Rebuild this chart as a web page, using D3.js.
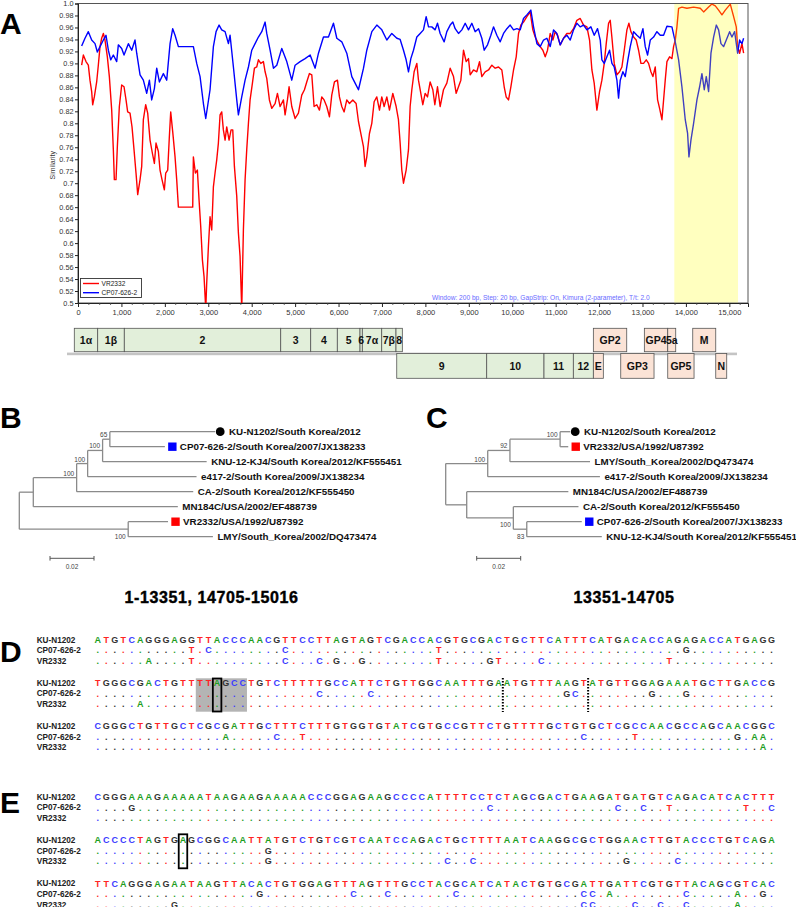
<!DOCTYPE html>
<html><head><meta charset="utf-8">
<script src="https://cdn.jsdelivr.net/npm/d3@7"></script>
<style>body{margin:0;background:#fff}svg{display:block}</style>
</head><body>
<svg id="c" width="796" height="907"></svg>
<script>
// ---------------- DATA ----------------
// Panel A similarity plot (position bp, similarity)
const vr2332Series = [[84,0.897],[123,0.914],[184,0.903],[238,0.897],[276,0.872],[315,0.853],[338,0.831],[376,0.844],[430,0.869],[468,0.897],[507,0.928],[545,0.942],[584,0.95],[622,0.939],[676,0.911],[722,0.878],[776,0.822],[814,0.756],[837,0.706],[876,0.706],[906,0.761],[952,0.828],[1006,0.864],[1060,0.861],[1106,0.839],[1144,0.819],[1198,0.817],[1244,0.794],[1290,0.756],[1336,0.717],[1375,0.681],[1429,0.706],[1467,0.728],[1505,0.806],[1559,0.831],[1605,0.817],[1659,0.772],[1713,0.75],[1759,0.733],[1797,0.767],[1851,0.753],[1889,0.722],[1935,0.706],[1989,0.689],[2020,0.717],[2066,0.722],[2104,0.778],[2135,0.819],[2181,0.786],[2235,0.744],[2273,0.706],[2312,0.66],[2642,0.66],[2657,0.744],[2703,0.717],[2749,0.722],[2788,0.672],[2826,0.628],[2865,0.572],[2903,0.544],[2942,0.49],[2964,0.533],[3003,0.594],[3041,0.644],[3080,0.622],[3118,0.694],[3156,0.717],[3195,0.739],[3233,0.767],[3272,0.814],[3310,0.819],[3348,0.789],[3387,0.772],[3425,0.794],[3479,0.772],[3525,0.789],[3564,0.789],[3602,0.728],[3656,0.678],[3694,0.617],[3732,0.578],[3771,0.49],[3809,0.622],[3848,0.706],[3886,0.756],[3925,0.8],[3963,0.839],[4017,0.867],[4063,0.892],[4116,0.894],[4155,0.906],[4209,0.9],[4270,0.903],[4309,0.886],[4347,0.875],[4408,0.839],[4462,0.825],[4539,0.833],[4593,0.85],[4654,0.828],[4731,0.839],[4769,0.814],[4823,0.839],[4861,0.861],[4923,0.828],[5000,0.808],[5076,0.817],[5153,0.847],[5215,0.856],[5268,0.869],[5330,0.883],[5384,0.881],[5437,0.828],[5499,0.831],[5560,0.822],[5614,0.844],[5668,0.839],[5729,0.828],[5791,0.811],[5844,0.847],[5906,0.869],[5975,0.872],[6021,0.844],[6075,0.828],[6129,0.819],[6190,0.839],[6252,0.833],[6328,0.839],[6405,0.833],[6459,0.803],[6513,0.783],[6574,0.761],[6612,0.728],[6651,0.744],[6712,0.783],[6766,0.8],[6820,0.836],[6881,0.844],[6943,0.822],[6996,0.844],[7050,0.828],[7112,0.844],[7173,0.822],[7250,0.85],[7327,0.828],[7380,0.806],[7419,0.767],[7457,0.722],[7496,0.7],[7557,0.722],[7611,0.756],[7649,0.828],[7688,0.856],[7741,0.886],[7803,0.9],[7841,0.872],[7895,0.85],[7941,0.831],[7995,0.85],[8049,0.844],[8110,0.869],[8172,0.856],[8218,0.831],[8279,0.861],[8340,0.828],[8417,0.856],[8494,0.867],[8571,0.892],[8648,0.878],[8709,0.85],[8763,0.861],[8817,0.872],[8878,0.922],[8940,0.903],[8993,0.908],[9032,0.881],[9108,0.889],[9185,0.886],[9247,0.903],[9300,0.878],[9377,0.886],[9454,0.889],[9531,0.897],[9608,0.892],[9684,0.894],[9761,0.889],[9815,0.861],[9861,0.844],[9915,0.839],[9969,0.861],[10030,0.889],[10092,0.911],[10145,0.95],[10199,0.964],[10260,0.969],[10337,0.978],[10414,0.986],[10475,0.956],[10529,0.944],[10583,0.936],[10644,0.928],[10706,0.922],[10760,0.911],[10813,0.922],[10875,0.95],[10936,0.939],[10990,0.953],[11044,0.947],[11105,0.931],[11182,0.942],[11259,0.95],[11336,0.95],[11412,0.958],[11489,0.972],[11566,0.975],[11643,0.964],[11720,0.961],[11781,0.939],[11835,0.889],[11888,0.867],[11950,0.822],[12011,0.853],[12065,0.872],[12119,0.9],[12165,0.933],[12219,0.967],[12257,0.972],[12295,0.944],[12349,0.9],[12411,0.881],[12472,0.886],[12526,0.894],[12580,0.922],[12641,0.956],[12687,0.967],[12733,0.953],[12795,0.944],[12856,0.939],[12910,0.922],[12964,0.9],[13025,0.9],[13087,0.906],[13140,0.9],[13194,0.886],[13240,0.878],[13294,0.894],[13348,0.839],[13394,0.825],[13448,0.806],[13486,0.839],[13524,0.872],[13563,0.903],[13624,0.911],[13678,0.908],[13716,0.928],[13755,0.939],[13793,0.961],[13832,0.992],[13908,0.994],[14024,0.992],[14177,0.994],[14331,0.992],[14408,0.986],[14523,0.994],[14600,0.999],[14677,0.996],[14753,0.989],[14830,0.981],[14907,0.989],[15022,0.999],[15099,0.978],[15160,0.961],[15191,0.928],[15237,0.917],[15291,0.933],[15329,0.917]];
const cp07Series = [[84,0.929],[161,0.942],[238,0.953],[315,0.939],[392,0.933],[445,0.919],[507,0.928],[584,0.939],[645,0.947],[699,0.922],[753,0.906],[814,0.914],[891,0.903],[929,0.931],[1006,0.925],[1060,0.914],[1160,0.933],[1237,0.922],[1313,0.939],[1352,0.917],[1429,0.881],[1505,0.872],[1582,0.85],[1644,0.872],[1697,0.839],[1759,0.858],[1813,0.892],[1874,0.869],[1966,0.883],[2043,0.872],[2120,0.933],[2181,0.958],[2235,0.947],[2312,0.928],[2504,0.928],[2657,0.928],[2734,0.9],[2811,0.878],[2888,0.833],[2942,0.808],[3041,0.856],[3118,0.928],[3180,0.953],[3249,0.964],[3310,0.956],[3387,0.953],[3464,0.933],[3502,0.947],[3579,0.894],[3656,0.839],[3694,0.814],[3771,0.844],[3848,0.872],[3925,0.894],[4002,0.922],[4078,0.933],[4155,0.944],[4232,0.953],[4309,0.969],[4347,0.95],[4424,0.922],[4501,0.892],[4578,0.897],[4693,0.925],[4808,0.903],[4923,0.872],[5000,0.897],[5115,0.903],[5230,0.908],[5346,0.914],[5461,0.892],[5538,0.917],[5653,0.944],[5768,0.944],[5883,0.967],[5960,0.942],[6075,0.936],[6190,0.917],[6306,0.878],[6382,0.867],[6459,0.856],[6575,0.892],[6651,0.922],[6767,0.953],[6882,0.964],[6997,0.956],[7112,0.939],[7227,0.95],[7343,0.942],[7419,0.94],[7496,0.922],[7557,0.906],[7611,0.886],[7665,0.908],[7726,0.922],[7803,0.944],[7880,0.95],[7956,0.956],[8018,0.978],[8072,0.961],[8148,0.961],[8225,0.956],[8279,0.967],[8340,0.95],[8433,0.936],[8494,0.953],[8571,0.964],[8632,0.969],[8686,0.958],[8763,0.95],[8840,0.956],[8917,0.967],[8993,0.956],[9070,0.967],[9147,0.953],[9224,0.958],[9300,0.942],[9354,0.922],[9431,0.931],[9508,0.947],[9569,0.961],[9646,0.947],[9723,0.936],[9800,0.95],[9877,0.958],[9953,0.964],[10030,0.956],[10107,0.958],[10184,0.956],[10260,0.975],[10337,0.981],[10429,0.989],[10491,0.961],[10568,0.933],[10644,0.928],[10721,0.939],[10798,0.942],[10875,0.928],[10952,0.956],[11028,0.95],[11105,0.931],[11182,0.942],[11259,0.947],[11336,0.939],[11412,0.956],[11489,0.967],[11566,0.961],[11643,0.964],[11720,0.956],[11812,0.961],[11888,0.947],[11965,0.958],[12027,0.939],[12065,0.906],[12119,0.9],[12180,0.911],[12242,0.922],[12296,0.9],[12349,0.894],[12411,0.872],[12449,0.842],[12488,0.872],[12549,0.886],[12603,0.878],[12664,0.906],[12718,0.928],[12795,0.953],[12872,0.947],[12948,0.942],[13010,0.958],[13064,0.928],[13117,0.914],[13179,0.939],[13256,0.944],[13332,0.953],[13409,0.947],[13486,0.947],[13563,0.962],[13678,0.961],[13755,0.936],[13832,0.906],[13908,0.861],[13985,0.806],[14039,0.783],[14070,0.744],[14116,0.772],[14177,0.8],[14254,0.839],[14316,0.861],[14369,0.883],[14423,0.856],[14469,0.878],[14523,0.853],[14577,0.917],[14638,0.944],[14700,0.964],[14753,0.956],[14807,0.933],[14868,0.928],[14930,0.939],[15007,0.953],[15060,0.944],[15122,0.953],[15191,0.917],[15237,0.939],[15291,0.933],[15329,0.942]];
const seriesNames = ["VR2332","CP07-626-2"];
const seriesColors = ["#ff0000","#0000ff"];
const highlightRange = [13733, 15200];
const yTickValues = [0.5,0.52,0.54,0.56,0.58,0.6,0.62,0.64,0.66,0.68,0.7,0.72,0.74,0.76,0.78,0.8,0.82,0.84,0.86,0.88,0.9,0.92,0.94,0.96,0.98,1.0];
const yTickLabels = ["0.5","0.52","0.54","0.56","0.58","0.6","0.62","0.64","0.66","0.68","0.7","0.72","0.74","0.76","0.78","0.8","0.82","0.84","0.86","0.88","0.9","0.92","0.94","0.96","0.98","1.0"];
const xTickValues = [0,1000,2000,3000,4000,5000,6000,7000,8000,9000,10000,11000,12000,13000,14000,15000];
const xTickLabels = ["0","1,000","2,000","3,000","4,000","5,000","6,000","7,000","8,000","9,000","10,000","11,000","12,000","13,000","14,000","15,000"];
const annotation = "Window: 200 bp, Step: 20 bp, GapStrip: On, Kimura (2-parameter), T/t: 2.0";

// Genome map
const geneNames = ["1α","1β","2","3","4","5","6","7α","7β","8","9","10","11","12","E","GP2","GP3","GP4","5a","GP5","M","N"];
const geneStart = [0,539,1152,4756,5447,6060,6583,6636,7083,7412,7429,9502,10822,11498,11959,11959,12590,13134,13673,13673,14249,14779];
const geneEnd   = [539,1152,4756,5447,6060,6583,6636,7083,7412,7558,9502,10822,11498,11959,12189,12728,13357,13673,13857,14279,14779,15032];
const geneRow   = [0,0,0,0,0,0,0,0,0,0,1,1,1,1,1,0,1,0,0,1,0,1];
const geneKind  = ["n","n","n","n","n","n","n","n","n","n","n","n","n","n","s","s","s","s","s","s","s","s"];

// Trees
const tipLabels = {KU:"KU-N1202/South Korea/2012",CP:"CP07-626-2/South Korea/2007/JX138233",KNU:"KNU-12-KJ4/South Korea/2012/KF555451",E4:"e417-2/South Korea/2009/JX138234",CA:"CA-2/South Korea/2012/KF555450",MN:"MN184C/USA/2002/EF488739",VR:"VR2332/USA/1992/U87392",LMY:"LMY/South_Korea/2002/DQ473474"};
const treeB_id     = ["r","a","b","c","d","e","KU","CP","KNU","E4","CA","MN","f","VR","LMY"];
const treeB_parent = ["","r","a","b","c","d","e","e","d","c","b","a","r","f","f"];
const treeB_len    = [0,0.00636,0.0197,0.0050,0.0068,0.0033,0.0478,0.0250,0.0473,0.0495,0.0530,0.0657,0.0495,0.0181,0.0385];
const treeB_support= ["","","100","100","100","65","","","","","","","100","",""];
const treeB_below  = ["f"];
const treeC_id     = ["r","a","b","c","KU","VR","LMY","E4","g","MN","h","CA","i","CP","KNU"];
const treeC_parent = ["","r","a","b","c","c","b","a","r","g","g","h","h","i","i"];
const treeC_len    = [0,0.0191,0.0101,0.0228,0.0045,0.0037,0.0364,0.0510,0.00955,0.0462,0.0212,0.0296,0.0061,0.0250,0.0341];
const treeC_support= ["","100","92","100","","","","","","","100","","83","",""];
const treeC_below  = ["h","i"];
const treeTitles = ["1-13351, 14705-15016","13351-14705"];

// Alignments
const seqNames = ["KU-N1202","CP07-626-2","VR2332"];
const dRef = ["ATGTCAGGGAGGTTACCCAACGTTCCTTAGTAGTCGACCACGTGCGACTGCTTCATTTCATGACACCAGAGACCATGAGG",
              "TGGGCGACTGTTTTAGCCTGTCTTTTTGCCATTCTGTTGGCAATTTGAATGTTTAAGTATGTTGGAGAAATGCTTGACCG",
              "CGGGCTGTTGCTCGCGATTGCTTTCTTTGTGGTGTATCGTGCCGTTCTGTTTTGCTGTGCTCGCCAACGCCAGCAACGGC"];
const dCP = [[[11,"T"],[13,"C"],[22,"C"],[40,"T"],[69,"G"]],
             [[26,"C"],[32,"C"],[55,"G"],[56,"C"],[65,"G"],[69,"G"]],
             [[15,"A"],[21,"C"],[24,"T"],[57,"C"],[63,"T"],[75,"G"],[77,"A"],[78,"A"]]];
const dVR = [[[6,"A"],[11,"T"],[22,"C"],[26,"C"],[28,"G"],[31,"G"],[40,"T"],[46,"G"],[47,"T"],[52,"C"],[67,"T"]],
             [[5,"A"]],
             [[78,"A"]]];
const eRef = ["CGGGAAAGAAAAATAAGAAGAAAAACCCGGAGAAGCCCCATTTTCCTCTAGCGACTGAAGATGATGTCAGACATCACTTT",
              "ACCCCTAGTGAGCGGCAATTATGTCTGTCGTCAATCCAGACTGCTTTTAATCAAGGCGCTGGAACTTGTACCCTGTCAGA",
              "TTCAGGGAGAATAAGTTACACTGTGGAGTTTAGTTTGCCTACGCATCATACTGTGCGATTGATTCGTGTTACAGCGTCAC"];
const eCP = [[[4,"G"],[46,"C"],[61,"C"],[64,"C"],[67,"T"],[76,"T"],[79,"C"]],
             [[20,"G"]],
             [[19,"G"],[30,"C"],[34,"C"],[42,"C"],[57,"C"],[58,"C"],[60,"A"],[69,"C"],[75,"A"],[78,"G"]]];
const eVR = [[],
             [[20,"G"],[41,"C"],[44,"C"],[62,"G"],[68,"C"]],
             [[9,"G"],[57,"C"],[58,"C"],[63,"C"],[66,"C"],[69,"C"],[75,"A"]]];
const dShade = [12,17], dBox = 14, dCuts = [47.5,57.5], eBox = 10;
const baseColor = {A:"#1f9e1f",C:"#3b3bff",G:"#333333",T:"#ff2424"};

// ---------------- DRAW ----------------
const F = "'Liberation Sans', Arial, Helvetica, sans-serif";
const svg = d3.select("#c").style("font-family", F);

// Panel letters
[["A",0,34],["B",0,428],["C",426,428],["D",0,662],["E",0,813]].forEach(([t,xx,yy]) =>
  svg.append("text").attr("x",xx).attr("y",yy).attr("font-size",30).attr("font-weight","bold").text(t));

// ---- Panel A ----
const x = d3.scaleLinear().domain([0,15430]).range([78,748]);
const y = d3.scaleLinear().domain([0.5,1.0]).range([303,3.5]);
const gA = svg.append("g");
gA.append("rect").attr("x",x(0)).attr("y",y(1)).attr("width",x(15430)-x(0)).attr("height",y(0.5)-y(1))
  .attr("fill","#fff").attr("stroke","#555").attr("stroke-width",1);
svg.append("clipPath").attr("id","clipA").append("rect")
  .attr("x",x(0)).attr("y",y(1)).attr("width",x(15430)-x(0)).attr("height",y(0.5)-y(1));
const line = d3.line().x(d=>x(d[0])).y(d=>y(d[1]));
[vr2332Series, cp07Series].forEach((s,i)=>{
  gA.append("path").datum(s).attr("d",line).attr("fill","none").attr("stroke",seriesColors[i])
    .attr("stroke-width",1.4).attr("stroke-linejoin","round").attr("clip-path","url(#clipA)");
});
gA.append("rect").attr("x",x(highlightRange[0])).attr("y",y(1)+0.5).attr("width",x(highlightRange[1])-x(highlightRange[0]))
  .attr("height",y(0.5)-y(1)-1).attr("fill","#ffff00").attr("opacity",0.25);

const yAxis = gA.append("g").attr("transform",`translate(${x(0)},0)`)
  .call(d3.axisLeft(y).tickValues(yTickValues).tickFormat((d,i)=>yTickLabels[i]).tickSize(3).tickPadding(1.5));
yAxis.selectAll("text").attr("font-size",7.3).attr("fill","#333").attr("font-family",F);
yAxis.selectAll("line,path").attr("stroke","#222");
const xAxis = gA.append("g").attr("transform",`translate(0,${y(0.5)})`)
  .call(d3.axisBottom(x).tickValues(xTickValues).tickFormat((d,i)=>xTickLabels[i]).tickSize(4).tickPadding(3));
xAxis.selectAll("text").attr("font-size",7.5).attr("fill","#333").attr("font-family",F);
xAxis.selectAll("line,path").attr("stroke","#222");
gA.append("g").selectAll("line").data(d3.range(0,15430,250).filter(v=>v%1000!==0)).enter().append("line")
  .attr("x1",d=>x(d)).attr("x2",d=>x(d)).attr("y1",y(0.5)).attr("y2",y(0.5)+2).attr("stroke","#444").attr("stroke-width",0.8);
gA.append("text").attr("transform",`translate(55,${(y(0.5)+y(1))/2 + 12}) rotate(-90)`).attr("text-anchor","middle")
  .attr("font-size",7).attr("fill","#333").text("Similarity");
// legend
const lg = gA.append("g");
lg.append("rect").attr("x",80.5).attr("y",278.5).attr("width",61).attr("height",19).attr("fill","#fff").attr("stroke","#333").attr("stroke-width",0.9);
seriesNames.forEach((n,i)=>{
  const yy = 283.5 + i*9.2;
  lg.append("line").attr("x1",83).attr("x2",99).attr("y1",yy).attr("y2",yy).attr("stroke",seriesColors[i]).attr("stroke-width",1.4);
  lg.append("text").attr("x",101.5).attr("y",yy+2.4).attr("font-size",6.6).attr("fill","#222").text(n);
});
gA.append("text").attr("x",432).attr("y",300).attr("font-size",6.6).attr("fill","#6a6aff").text(annotation);

// genome map
const mapX = d3.scaleLinear().domain([0,15430]).range([74.3,744]);
const rowY = [[328.3,351.7],[353.5,378.3]];
const gM = svg.append("g");
gM.append("rect").attr("x",67).attr("y",352.6).attr("width",670).attr("height",2.6).attr("fill","#c4c4c4");
geneNames.forEach((n,i)=>{
  const r = rowY[geneRow[i]];
  gM.append("rect").attr("x",mapX(geneStart[i])).attr("y",r[0]).attr("width",mapX(geneEnd[i])-mapX(geneStart[i]))
    .attr("height",r[1]-r[0]).attr("fill",geneKind[i]==="n"?"#e2efda":"#fbe3d6").attr("stroke","#555").attr("stroke-width",0.8);
});
geneNames.forEach((n,i)=>{
  const r = rowY[geneRow[i]];
  gM.append("text").attr("x",(mapX(geneStart[i])+mapX(geneEnd[i]))/2).attr("y",(r[0]+r[1])/2+3.8)
    .attr("text-anchor","middle").attr("font-size",10.5).attr("font-weight","bold").attr("fill","#111").text(n);
});

// ---- Trees ----
function drawTree(ids, parents, lens, supports, below, rootX, scaleX, title, titleX) {
  const g = svg.append("g");
  const rows = ids.map((id,i)=>({id, parent: parents[i]||null, len: lens[i], sup: supports[i]}));
  const root = d3.stratify().id(d=>d.id).parentId(d=>d.parent)(rows);
  const bl = d3.scaleLinear().domain([0,0.02]).range([0,44]);
  root.eachBefore(n=>{ n.px = n.parent ? n.parent.px + bl(n.data.len) : rootX; });
  let k = 0;
  root.eachAfter(n=>{
    if (!n.children) { n.py = 431.7 + 15*(k++); }
    else { n.py = (n.children[0].py + n.children[n.children.length-1].py)/2; }
  });
  // fix leaf order (eachAfter visits in order of children)
  const stroke = "#8a8a8a";
  root.each(n=>{
    if (n.parent) g.append("line").attr("x1",n.parent.px).attr("x2",n.px).attr("y1",n.py).attr("y2",n.py).attr("stroke",stroke).attr("stroke-width",1.3);
    if (n.children) g.append("line").attr("x1",n.px).attr("x2",n.px).attr("y1",n.children[0].py).attr("y2",n.children[n.children.length-1].py).attr("stroke",stroke).attr("stroke-width",1.3);
    if (n.data.sup) {
      const isBelow = below.includes(n.id);
      g.append("text").attr("x",n.px-2.5).attr("y",isBelow? n.py+9.5 : n.py-2).attr("text-anchor","end")
        .attr("font-size",6.5).attr("fill","#444").text(n.data.sup);
    }
    if (!n.children) {
      let tx = n.px + 4.5;
      if (n.id==="KU") { g.append("circle").attr("cx",n.px+5.2).attr("cy",n.py).attr("r",4.4).attr("fill","#000"); tx = n.px+14; }
      if (n.id==="CP" || n.id==="VR") {
        g.append("rect").attr("x",n.px+3.3).attr("y",n.py-4.2).attr("width",8.4).attr("height",8.4).attr("fill", n.id==="CP"?"#0000ff":"#ff0000");
        tx = n.px + 15;
      }
      g.append("text").attr("x",tx).attr("y",n.py+3.5).attr("font-size",9.8).attr("font-weight","bold").attr("fill","#111").text(tipLabels[n.id]);
    }
  });
  // scale bar
  const sb0 = scaleX;
  g.append("line").attr("x1",sb0).attr("x2",sb0+bl(0.02)).attr("y1",558.3).attr("y2",558.3).attr("stroke","#555").attr("stroke-width",1);
  [sb0, sb0+bl(0.02)].forEach(v=>g.append("line").attr("x1",v).attr("x2",v).attr("y1",556).attr("y2",560.6).attr("stroke","#555").attr("stroke-width",1));
  g.append("text").attr("x",sb0+bl(0.01)).attr("y",569).attr("text-anchor","middle").attr("font-size",6.5).attr("fill","#444").text("0.02");
  g.append("text").attr("x",titleX).attr("y",603).attr("text-anchor","middle").attr("font-size",16).attr("font-weight","bold")
    .attr("letter-spacing",0.6).attr("stroke","#000").attr("stroke-width",0.4).text(title);
}
drawTree(treeB_id, treeB_parent, treeB_len, treeB_support, treeB_below, 19.3, 50, treeTitles[0], 211.5);
drawTree(treeC_id, treeC_parent, treeC_len, treeC_support, treeC_below, 445.7, 476.7, treeTitles[1], 624);

// ---- Alignments ----
const colX = d3.scaleLinear().domain([0,79]).range([97.7,771.5]);
function drawBlock(ref, cp, vr, yc, i) {
  const g = svg.append("g");
  const rows = [ref.split("")];
  [cp, vr].forEach(df=>{ const a = ref.split("").map(()=>"."); df.forEach(([p,b])=>a[p]=b); rows.push(a); });
  rows.forEach((r,ri)=>{
    const yy = yc + ri*10.6;
    g.append("text").attr("x",36.7).attr("y",yy+3).attr("font-size",8.2).attr("font-weight","bold").attr("fill","#222").text(seqNames[ri]);
    g.selectAll(null).data(r).enter().append("text").attr("x",(d,j)=>colX(j)).attr("y",yy+3.2)
      .attr("text-anchor","middle").attr("font-size",9).attr("font-weight","bold")
      .attr("fill",(d,j)=>baseColor[d==="." ? ref[j] : d]).text(d=>d);
  });
  return g;
}
const dTops = [639.5, 682.7, 726], eTops = [796.7, 840, 883.3];
// shade behind D block 2
svg.append("rect").attr("x",colX(dShade[0]-0.5)).attr("y",678.3).attr("width",colX(dShade[1]+0.5)-colX(dShade[0]-0.5)).attr("height",33.4).attr("fill","#b4b4b4");
dRef.forEach((r,i)=>drawBlock(r,dCP[i],dVR[i],dTops[i],i));
eRef.forEach((r,i)=>drawBlock(r,eCP[i],eVR[i],eTops[i],i));
svg.append("rect").attr("x",colX(dBox-0.5)).attr("y",678.5).attr("width",colX(dBox+0.5)-colX(dBox-0.5)).attr("height",33).attr("fill","none").attr("stroke","#000").attr("stroke-width",1.8);
svg.append("rect").attr("x",colX(eBox-0.5)).attr("y",834.3).attr("width",colX(eBox+0.5)-colX(eBox-0.5)).attr("height",34).attr("fill","none").attr("stroke","#000").attr("stroke-width",1.8);
dCuts.forEach(c=>svg.append("line").attr("x1",colX(c)).attr("x2",colX(c)).attr("y1",678).attr("y2",712)
  .attr("stroke","#000").attr("stroke-width",2).attr("stroke-dasharray","1.5,1.5"));
</script>
</body></html>
